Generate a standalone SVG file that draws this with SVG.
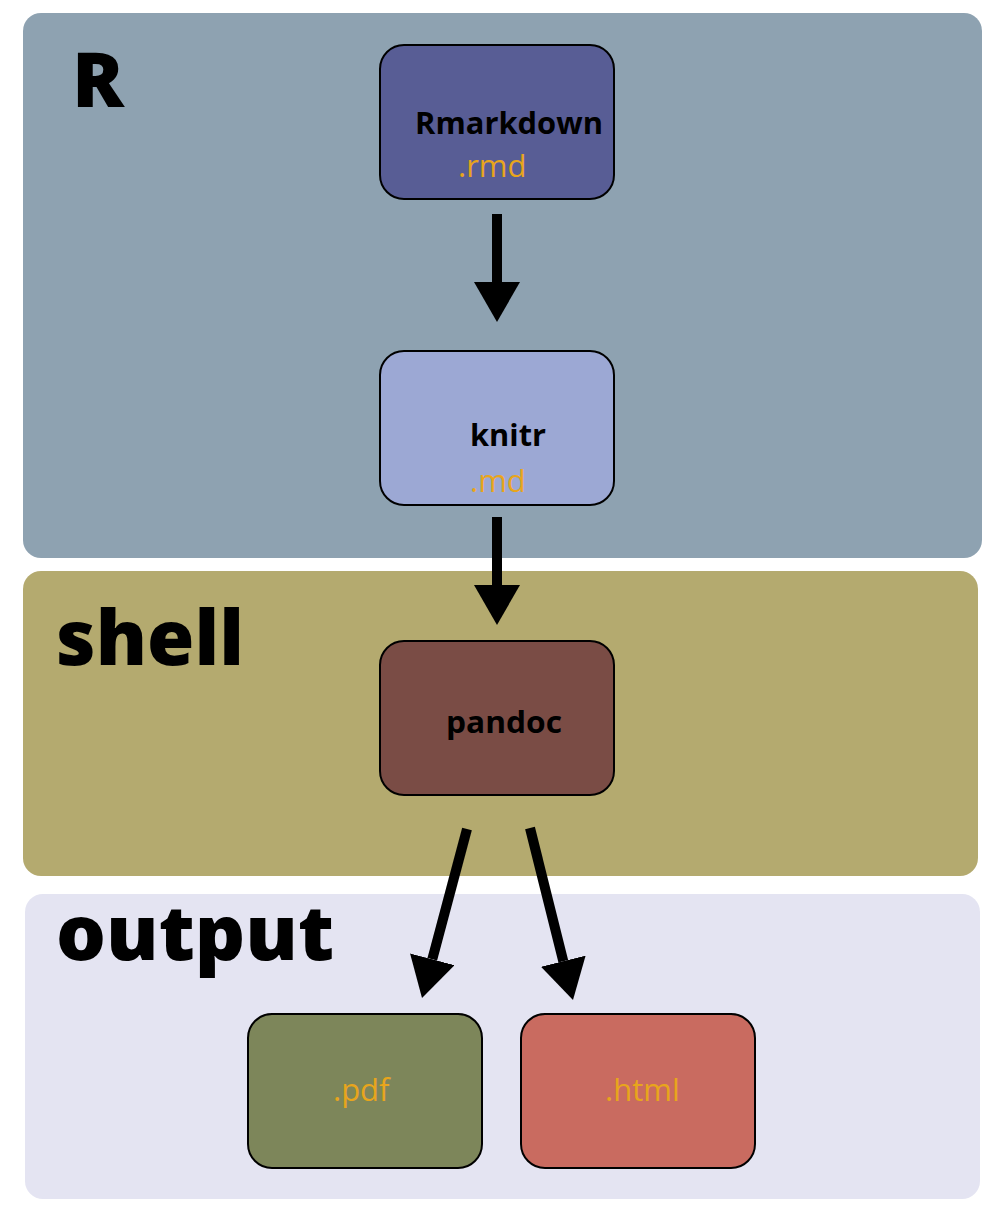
<svg xmlns="http://www.w3.org/2000/svg" width="1000" height="1218" viewBox="0 0 1000 1218">
<style>
.panel{stroke:none}
.node{stroke:#000;stroke-width:2}
.title{font-family:"Open Sans","Noto Sans",sans-serif;font-weight:800;fill:#000}
.lbl{font-family:"Open Sans","Noto Sans",sans-serif;font-weight:bold;font-size:31px;fill:#000}
.ext{font-family:"Open Sans","Noto Sans",sans-serif;font-size:31px;fill:#E8A51C}
.conn{stroke:#000;stroke-width:10;fill:none;marker-end:url(#head)}
</style>
<defs>
<marker id="head" markerUnits="userSpaceOnUse" markerWidth="40" markerHeight="46" refX="0" refY="23" orient="auto" viewBox="0 0 40 46">
<path d="M0,0 L40,23 L0,46 Z" fill="#000"/>
</marker>
</defs>
<rect width="1000" height="1218" fill="#fff"/>
<g id="panel-R">
<rect class="panel" x="23" y="13" width="959" height="545" rx="18" fill="#8EA2B1"/>
<text class="title" x="72" y="107" font-size="76" textLength="52" lengthAdjust="spacingAndGlyphs">R</text>
</g>
<g id="panel-shell">
<rect class="panel" x="23" y="571" width="955" height="305" rx="18" fill="#B4AA6F"/>
<text class="title" x="56" y="665" font-size="76" textLength="188" lengthAdjust="spacingAndGlyphs">shell</text>
</g>
<g id="panel-output">
<rect class="panel" x="25" y="894" width="955" height="305" rx="18" fill="#E4E4F2"/>
<text class="title" x="56" y="960" font-size="76" textLength="278" lengthAdjust="spacingAndGlyphs">output</text>
</g>
<g id="node-rmarkdown">
<rect class="node" x="380" y="45" width="234" height="154" rx="24" fill="#585D95"/>
<text class="lbl" x="415" y="134" textLength="188" lengthAdjust="spacingAndGlyphs">Rmarkdown</text>
<text class="ext" x="458" y="177">.rmd</text>
</g>
<g id="node-knitr">
<rect class="node" x="380" y="351" width="234" height="154" rx="24" fill="#9CA8D4"/>
<text class="lbl" x="470" y="446" textLength="76" lengthAdjust="spacingAndGlyphs">knitr</text>
<text class="ext" x="470" y="492">.md</text>
</g>
<g id="node-pandoc">
<rect class="node" x="380" y="641" width="234" height="154" rx="24" fill="#7A4C45"/>
<text class="lbl" x="446" y="733" textLength="116" lengthAdjust="spacingAndGlyphs">pandoc</text>
</g>
<g id="node-pdf">
<rect class="node" x="248" y="1014" width="234" height="154" rx="24" fill="#7D865A"/>
<text class="ext" x="333" y="1101">.pdf</text>
</g>
<g id="node-html">
<rect class="node" x="521" y="1014" width="234" height="154" rx="24" fill="#C96B60"/>
<text class="ext" x="605" y="1101">.html</text>
</g>
<g id="connectors">
<line class="conn" x1="497" y1="214" x2="497" y2="282"/>
<line class="conn" x1="497" y1="517" x2="497" y2="585"/>
<line class="conn" x1="467" y1="829" x2="432.3" y2="959.3"/>
<line class="conn" x1="530" y1="828" x2="563.3" y2="961.2"/>
</g>
</svg>
